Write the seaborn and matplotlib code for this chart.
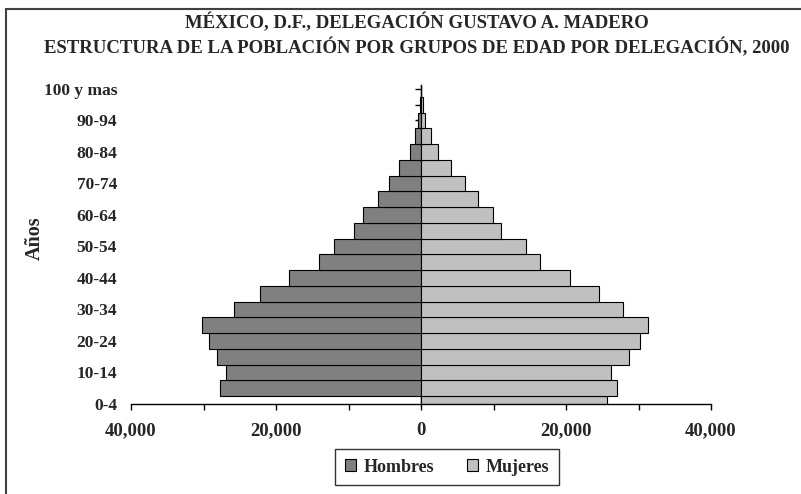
import matplotlib
matplotlib.use('Agg')
import matplotlib.pyplot as plt
from matplotlib.patches import Rectangle, Patch
import seaborn as sns
import pandas as pd

# grupos de edad (de abajo hacia arriba)
grupos = ['0-4', '5-9', '10-14', '15-19', '20-24', '25-29', '30-34', '35-39',
          '40-44', '45-49', '50-54', '55-59', '60-64', '65-69', '70-74', '75-79',
          '80-84', '85-89', '90-94', '95-99', '100 y mas']
# valores (la serie de hombres aparece corrida un grupo)
hombres = [0, 27700, 26850, 28100, 29250, 30200, 25750, 22250, 18200, 14050,
           12000, 9300, 8000, 6000, 4400, 3100, 1550, 850, 400, 150, 30]
mujeres = [25650, 27100, 26200, 28750, 30150, 31250, 27850, 24550, 20600, 16450,
           14500, 11100, 9950, 7900, 6100, 4150, 2350, 1350, 600, 230, 50]
ticks_x = [-40000, -30000, -20000, -10000, 0, 10000, 20000, 30000, 40000]

sns.set_theme(style='white')
plt.rcParams['font.family'] = ['Liberation Serif', 'DejaVu Serif']
plt.rcParams['font.weight'] = 'bold'

df = pd.DataFrame({
    'grupo': grupos * 2,
    'sexo': ['Hombres'] * len(grupos) + ['Mujeres'] * len(grupos),
    'pob': [-h for h in hombres] + mujeres,
})
colores = {'Hombres': '#808080', 'Mujeres': '#c0c0c0'}

fig = plt.figure(figsize=(8.01, 4.94), dpi=100)
ax = fig.add_axes([131/801, 1 - 404/494, 580/801, 319/494])
sns.barplot(data=df, x='pob', y='grupo', hue='sexo', order=grupos, orient='h',
            dodge=False, width=1, palette=colores, edgecolor='black',
            linewidth=0.8, legend=False, ax=ax)

ax.set_xlim(-40000, 40000)
ax.set_ylim(0, 20.25)
ax.set_xlabel('')
ax.set_ylabel('')

# eje x
ax.set_xticks(ticks_x)
ax.set_xticklabels([f'{abs(v):,}' if v % 20000 == 0 else '' for v in ticks_x])
ax.tick_params(axis='x', direction='out', length=4.3, width=1, color='black',
               bottom=True, labelsize=13.5, pad=9)
# etiquetas y cada dos grupos
ax.set_yticks(range(len(grupos)))
ax.set_yticklabels([g if i % 2 == 0 else '' for i, g in enumerate(grupos)])
ax.tick_params(axis='y', length=0, labelsize=12.5, pad=10)
for s in ['left', 'top', 'right']:
    ax.spines[s].set_visible(False)
ax.spines['bottom'].set_color('black')
ax.spines['bottom'].set_linewidth(1)

# eje vertical en el cero con marcas
sec = ax.secondary_yaxis(0.5)
sec.set_yticks(range(1, len(grupos)))
sec.tick_params(direction='in', length=4.3, width=1, color='black',
                labelleft=False, labelright=False)
sec.spines['right'].set_color('black')
sec.spines['left'].set_color('black')
sec.spines['right'].set_linewidth(1)
sec.spines['left'].set_linewidth(1)

fig.text(35/801, 1 - 238/494, 'Años', rotation=90, ha='center', va='center',
         fontsize=14.5, fontweight='bold')
fig.text(417/801, 1 - 23/494, 'MÉXICO, D.F., DELEGACIÓN GUSTAVO A. MADERO',
         ha='center', va='center', fontsize=13.5, fontweight='bold')
fig.text(417/801, 1 - 48/494,
         'ESTRUCTURA DE LA POBLACIÓN POR GRUPOS DE EDAD POR DELEGACIÓN, 2000',
         ha='center', va='center', fontsize=13.5, fontweight='bold')

handles = [Patch(facecolor=colores[k], edgecolor='black', linewidth=0.8) for k in colores]
leg = fig.legend(handles, list(colores), loc='center', ncol=2,
                 bbox_to_anchor=(447/801, 1 - 467/494), bbox_transform=fig.transFigure,
                 fontsize=13, frameon=True, fancybox=False, edgecolor='black',
                 handlelength=0.65, handleheight=0.65, handletextpad=0.4,
                 columnspacing=1.8, borderpad=0.55)
leg.get_frame().set_linewidth(1)

fig.add_artist(Rectangle((6/801, -0.1), 1.2, 1 - 9/494 + 0.1, transform=fig.transFigure,
                         fill=False, edgecolor='#404040', linewidth=1.5))

fig.savefig('out.png', dpi=100)
